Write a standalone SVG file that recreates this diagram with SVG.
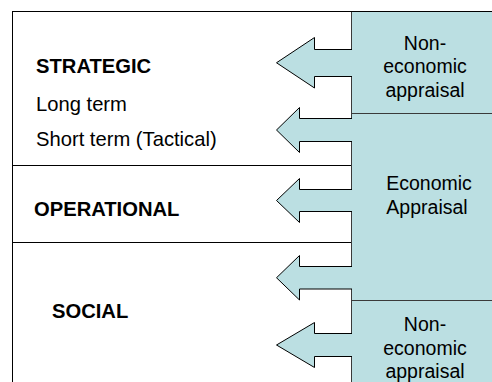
<svg xmlns="http://www.w3.org/2000/svg" width="492" height="382" viewBox="0 0 492 382">
<style>
text{font-family:"Liberation Sans",Arial,sans-serif;font-size:19.5px;fill:#000}
.l{font-size:20.2px}
.b{font-weight:bold}
.c{text-anchor:middle}
.ln{stroke:#000;stroke-width:1;fill:none}
.pl{stroke:#3a3a3a;stroke-width:1;fill:none}
.panel{fill:#BBDFE2}
.af{fill:#BBDFE2;stroke:none}
.as{fill:none;stroke:#000;stroke-width:1;stroke-linejoin:miter}
</style>
<rect width="492" height="382" fill="#fff"/>
<g id="left-box">
  <line class="ln" x1="12" y1="11.5" x2="492" y2="11.5"/>
  <line class="ln" x1="12.5" y1="11" x2="12.5" y2="382"/>
  <line class="ln" x1="12" y1="165.5" x2="352" y2="165.5"/>
  <line class="ln" x1="12" y1="242.5" x2="352" y2="242.5"/>
</g>
<g id="strategic">
  <text class="l b" x="36" y="73">STRATEGIC</text>
  <text class="l" x="36" y="111">Long term</text>
  <text class="l" x="36" y="146">Short term (Tactical)</text>
</g>
<g id="operational">
  <text class="l b" x="34" y="216">OPERATIONAL</text>
</g>
<g id="social">
  <text class="l b" x="52" y="318">SOCIAL</text>
</g>
<g id="right-panel">
  <rect class="panel" x="352" y="12" width="140" height="370"/>
  <line class="pl" x1="351.5" y1="12" x2="351.5" y2="382"/>
  <line class="pl" x1="352" y1="113.5" x2="492" y2="113.5"/>
  <line class="pl" x1="352" y1="300.5" x2="492" y2="300.5"/>
</g>
<g id="non-economic-top">
  <text class="c" x="425" y="50">Non-</text>
  <text class="c" x="425" y="73">economic</text>
  <text class="c" x="425" y="96.5">appraisal</text>
</g>
<g id="economic">
  <text class="c" x="429" y="190">Economic</text>
  <text class="c" x="427" y="213.5">Appraisal</text>
</g>
<g id="non-economic-bottom">
  <text class="c" x="425" y="331">Non-</text>
  <text class="c" x="425" y="355">economic</text>
  <text class="c" x="425" y="378">appraisal</text>
</g>
<g id="connectors">
  <polygon class="af" points="353,49.5 314.5,49.5 314.5,37.5 276.5,62.75 314.5,88 314.5,76.5 353,76.5"/>
  <polyline class="as" points="352,49.5 314.5,49.5 314.5,37.5 276.5,62.75 314.5,88 314.5,76.5 352,76.5"/>
  <polygon class="af" points="353,118.5 299.5,118.5 299.5,107.5 276.5,130 299.5,152.5 299.5,141.5 353,141.5"/>
  <polyline class="as" points="352,118.5 299.5,118.5 299.5,107.5 276.5,130 299.5,152.5 299.5,141.5 352,141.5"/>
  <polygon class="af" points="353,189.5 299.5,189.5 299.5,178.5 276.5,200.5 299.5,222.5 299.5,211.5 353,211.5"/>
  <polyline class="as" points="352,189.5 299.5,189.5 299.5,178.5 276.5,200.5 299.5,222.5 299.5,211.5 352,211.5"/>
  <polygon class="af" points="353,266.5 299.5,266.5 299.5,255.5 276.5,277.75 299.5,300 299.5,289 353,289"/>
  <polyline class="as" points="352,266.5 299.5,266.5 299.5,255.5 276.5,277.75 299.5,300 299.5,289 352,289"/>
  <polygon class="af" points="353,333.5 314.5,333.5 314.5,322.5 276.5,345 314.5,367.5 314.5,356.5 353,356.5"/>
  <polyline class="as" points="352,333.5 314.5,333.5 314.5,322.5 276.5,345 314.5,367.5 314.5,356.5 352,356.5"/>
</g>
</svg>
